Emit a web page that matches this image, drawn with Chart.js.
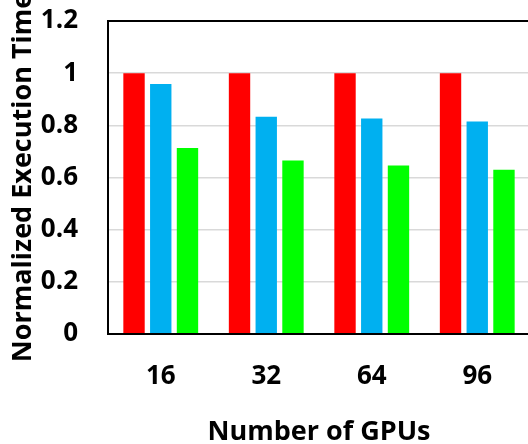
<!DOCTYPE html>
<html>
<head>
<meta charset="utf-8">
<script src="https://cdn.jsdelivr.net/npm/chart.js@4.4.1/dist/chart.umd.min.js"></script>
<style>
  html, body { margin: 0; padding: 0; background: #fff; overflow: hidden; }
  #wrap { width: 532px; height: 444px; }
</style>
</head>
<body>
<div id="wrap"><canvas id="chart"></canvas></div>
<script>
// Chart data
const categories = ['16', '32', '64', '96'];
const seriesRed = [1, 1, 1, 1];
const seriesBlue = [0.958, 0.833, 0.826, 0.815];
const seriesGreen = [0.713, 0.665, 0.646, 0.63];
const yTicks = [0, 0.2, 0.4, 0.6, 0.8, 1, 1.2];

const TICK_FONT = { family: "'Open Sans', sans-serif", size: 26, weight: 'bold' };
const TITLE_FONT = { family: "'Open Sans', sans-serif", size: 27, weight: 'bold' };

// frame around the plot area (top + left lines like the original)
const framePlugin = {
  id: 'frame',
  afterDraw(chart) {
    const { ctx, chartArea } = chart;
    ctx.save();
    ctx.strokeStyle = '#000';
    ctx.lineWidth = 2;
    ctx.strokeRect(chartArea.left, chartArea.top, chartArea.right - chartArea.left, chartArea.bottom - chartArea.top);
    ctx.restore();
  }
};

const ctx = document.getElementById('chart').getContext('2d');
new Chart(ctx, {
  type: 'bar',
  data: {
    labels: categories,
    datasets: [
      { data: seriesRed, backgroundColor: '#FF0000' },
      { data: seriesBlue, backgroundColor: '#00B0F0' },
      { data: seriesGreen, backgroundColor: '#00FF00' }
    ]
  },
  options: {
    responsive: true,
    maintainAspectRatio: false,
    animation: false,
    layout: { padding: { top: 0, right: 2, left: 0, bottom: 0 } },
    datasets: { bar: { barPercentage: 0.8, categoryPercentage: 0.76 } },
    plugins: { legend: { display: false }, tooltip: { enabled: false } },
    scales: {
      x: {
        grid: { display: false, drawTicks: false },
        border: { color: '#000', width: 2 },
        ticks: { color: '#000', font: TICK_FONT, padding: 27 },
        title: { display: true, text: 'Number of GPUs', color: '#000', font: TITLE_FONT, padding: { top: 0, bottom: -5 } },
        afterFit(scale) { scale.height = 110; }
      },
      y: {
        min: 0,
        max: 1.2,
        afterBuildTicks(scale) { scale.ticks = yTicks.map(v => ({ value: v })); },
        grid: { color: '#D9D9D9', lineWidth: 1.5, drawTicks: false },
        border: { color: '#000', width: 2 },
        ticks: { color: '#000', font: TICK_FONT, padding: 30, callback: v => String(+v.toFixed(1)) },
        title: { display: true, text: 'Normalized Execution Time', color: '#000', font: TITLE_FONT, padding: { top: 7, bottom: 0 } },
        afterFit(scale) {
          scale.width = 108;
          scale.paddingTop = 21;
          scale.paddingBottom = 0;
        }
      }
    }
  },
  plugins: [framePlugin]
});
</script>
</body>
</html>
